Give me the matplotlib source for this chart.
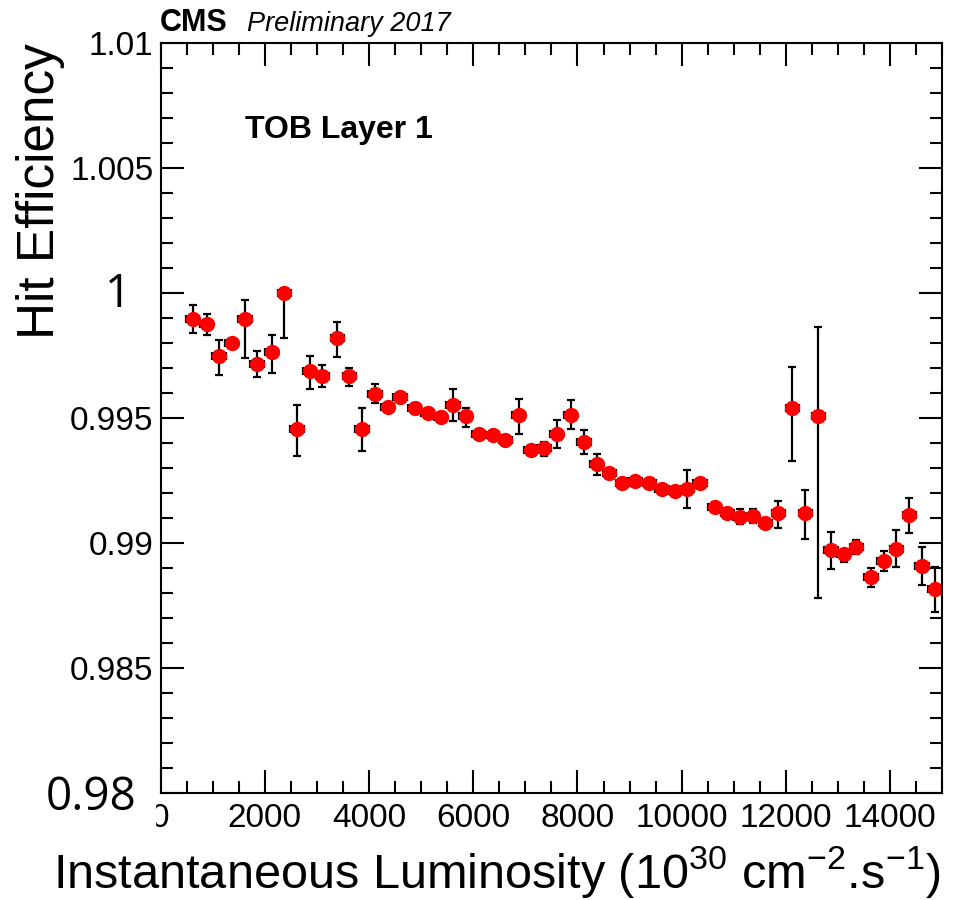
import matplotlib

matplotlib.use("Agg")
import matplotlib.pyplot as plt
from matplotlib.patches import Rectangle
from matplotlib.ticker import MultipleLocator, FixedLocator

plt.rcParams["font.family"] = ["Liberation Sans", "DejaVu Sans"]
plt.rcParams["mathtext.fontset"] = "custom"
plt.rcParams["mathtext.rm"] = "Liberation Sans"

# hit efficiency vs instantaneous luminosity, TOB layer 1
lumi = [618, 886, 1122, 1366, 1616, 1851, 2134, 2375, 2619, 2863,
        3104, 3392, 3622, 3866, 4116, 4359, 4595, 4877, 5127, 5376,
        5612, 5856, 6105, 6374, 6616, 6869, 7113, 7358, 7602, 7867,
        8126, 8369, 8611, 8860, 9104, 9378, 9622, 9866, 10107, 10351,
        10633, 10875, 11119, 11362, 11604, 11853, 12122, 12372, 12621, 12865,
        13108, 13350, 13632, 13876, 14118, 14367, 14611, 14854]
eff = [0.99897, 0.99878, 0.99750, 0.99802, 0.99897, 0.99717, 0.99764, 1.00000, 0.99457, 0.99688,
       0.99668, 0.99821, 0.99669, 0.99457, 0.99597, 0.99546, 0.99584, 0.99542, 0.99522, 0.99505,
       0.99553, 0.99509, 0.99437, 0.99432, 0.99413, 0.99514, 0.99375, 0.99380, 0.99437, 0.99514,
       0.99406, 0.99317, 0.99280, 0.99242, 0.99248, 0.99242, 0.99216, 0.99210, 0.99216, 0.99242,
       0.99146, 0.99120, 0.99106, 0.99109, 0.99082, 0.99120, 0.99540, 0.99120, 0.99508, 0.98973,
       0.98957, 0.98986, 0.98864, 0.98928, 0.98978, 0.99113, 0.98909, 0.98818]
err_lo = [0.00055, 0.00045, 0.00077, 0.00015, 0.00155, 0.00051, 0.00084, 0.00180, 0.00108, 0.00071,
          0.00044, 0.00077, 0.00040, 0.00089, 0.00037, 0.00015, 0.00015, 0.00015, 0.00020, 0.00020,
          0.00064, 0.00045, 0.00015, 0.00015, 0.00015, 0.00076, 0.00015, 0.00030, 0.00056, 0.00058,
          0.00050, 0.00045, 0.00015, 0.00015, 0.00015, 0.00015, 0.00015, 0.00015, 0.00076, 0.00015,
          0.00020, 0.00015, 0.00030, 0.00027, 0.00015, 0.00058, 0.00210, 0.00103, 0.00726, 0.00076,
          0.00030, 0.00028, 0.00040, 0.00040, 0.00071, 0.00070, 0.00076, 0.00094]
err_hi = [0.00055, 0.00039, 0.00064, 0.00015, 0.00077, 0.00053, 0.00069, 0.00000, 0.00096, 0.00062,
          0.00044, 0.00064, 0.00031, 0.00084, 0.00039, 0.00015, 0.00015, 0.00015, 0.00020, 0.00020,
          0.00064, 0.00031, 0.00015, 0.00015, 0.00015, 0.00064, 0.00015, 0.00024, 0.00057, 0.00059,
          0.00046, 0.00039, 0.00015, 0.00015, 0.00015, 0.00015, 0.00015, 0.00015, 0.00076, 0.00015,
          0.00020, 0.00015, 0.00030, 0.00027, 0.00015, 0.00050, 0.00165, 0.00094, 0.00358, 0.00071,
          0.00012, 0.00028, 0.00038, 0.00040, 0.00076, 0.00070, 0.00077, 0.00088]
lumi_halfbin = 130

xticks = [0, 2000, 4000, 6000, 8000, 10000, 12000, 14000]
xtick_labels = ["0", "2000", "4000", "6000", "8000", "10000", "12000", "14000"]
yticks = [0.98, 0.985, 0.99, 0.995, 1.0, 1.005, 1.01]
ytick_labels = ["", "0.985", "0.99", "0.995", "", "1.005", "1.01"]

W, H = 957, 900
fig = plt.figure(figsize=(W / 100, H / 100), dpi=100)
ax = fig.add_axes([160.5 / W, 1 - 793.3 / H, 781.8 / W, 750.0 / H])

ax.errorbar(lumi, eff, yerr=[err_lo, err_hi], xerr=lumi_halfbin,
            fmt="o", color="red", ms=10, mec="red",
            ecolor="black", elinewidth=1.6, capsize=2.9, capthick=1.6)

ax.set_xlim(0, 15000)
ax.set_ylim(0.98, 1.01)
ax.xaxis.set_major_locator(FixedLocator(xticks))
ax.xaxis.set_minor_locator(MultipleLocator(500))
ax.yaxis.set_major_locator(FixedLocator(yticks))
ax.yaxis.set_minor_locator(MultipleLocator(0.001))
ax.set_xticklabels(xtick_labels)
ax.set_yticklabels(ytick_labels)

for s in ax.spines.values():
    s.set_linewidth(1.5)
ax.tick_params(which="both", direction="in", top=True, right=True, width=1.5)
ax.tick_params(which="major", length=16.5)
ax.tick_params(which="minor", length=8.5)
ax.tick_params(axis="x", labelsize=24, pad=7)
ax.tick_params(axis="y", labelsize=24, pad=5)

ax.set_ylabel("Hit Efficiency", fontsize=37, loc="top")
ax.yaxis.set_label_coords(-0.122, 1.0)
ax.set_xlabel(r"Instantaneous Luminosity (10$^{\mathregular{30}}$ cm$^{\mathregular{-2}}$.s$^{\mathregular{-1}}$)",
              fontsize=35, loc="right")
ax.xaxis.set_label_coords(0.997, -0.068)

ax.text(0.108, 0.885, "TOB Layer 1", transform=ax.transAxes,
        fontsize=23, fontweight="bold", va="center")

fig.text(160 / W, 1 - 31 / H, "CMS", fontsize=22, fontweight="bold", va="baseline")
fig.text(247 / W, 1 - 31 / H, "Preliminary 2017", fontsize=19.5, style="italic", va="baseline")

# the "0" tick label is half hidden in the original
fig.patches.append(Rectangle((0, 1 - 850 / H), 155 / W, 50 / H,
                             transform=fig.transFigure, color="white", zorder=5))

# relabelled ticks drawn in a larger font
fig.text(131 / W, 1 - 295 / H, "1", fontsize=33, family="Open Sans",
         ha="right", va="center", zorder=6)
fig.text(136 / W, 1 - 798 / H, "0.98", fontsize=33, family="Open Sans",
         ha="right", va="center", zorder=6)

fig.savefig("out.png", dpi=100)
plt.close(fig)
